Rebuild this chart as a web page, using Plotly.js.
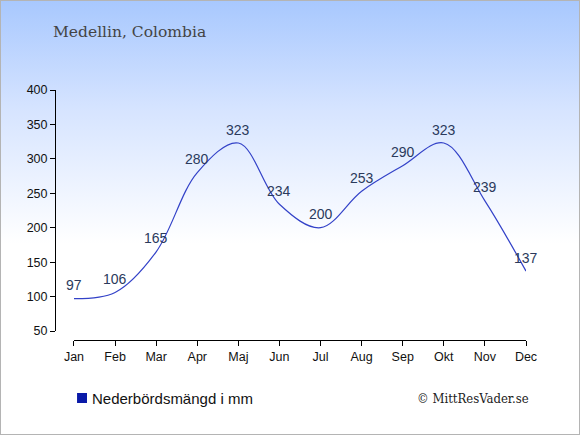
<!DOCTYPE html>
<html>
<head>
<meta charset="utf-8">
<script src="https://cdn.plot.ly/plotly-3.0.1.min.js"></script>
<style>
html,body{margin:0;padding:0;background:#fff;}
#wrap{position:relative;width:580px;height:435px;box-sizing:border-box;border:1px solid #b4b4b4;
background:linear-gradient(to bottom,#a8c8fe 0%,#d6e4ff 25%,#ffffff 56%,#ffffff 100%);overflow:hidden;}
#chart{position:absolute;left:-1px;top:-1px;width:580px;height:435px;}
</style>
</head>
<body>
<div id="wrap"><div id="chart"></div></div>
<script>
const months = ["Jan","Feb","Mar","Apr","Maj","Jun","Jul","Aug","Sep","Okt","Nov","Dec"];
const precipitation = [97,106,165,280,323,234,200,253,290,323,239,137];
const yTicks = [50,100,150,200,250,300,350,400];
const chartTitle = "Medellin, Colombia";
const legendLabel = "Nederbördsmängd i mm";
const credit = "© MittResVader.se";

const idx = months.map((m,i)=>i);

const trace = {
  x: idx, y: precipitation, type: 'scatter', mode: 'lines',
  line: {color: '#3342c8', width: 1.2, shape: 'spline', smoothing: 1},
  hoverinfo: 'skip', showlegend: false, cliponaxis: false
};

const labelAnns = precipitation.map((v,i)=>({
  x: i, y: v, xref: 'x', yref: 'y', text: String(v), showarrow: false,
  yshift: 13.5, font: {family: 'Liberation Sans, Arial, sans-serif', size: 14, color: '#2b3a5c'}
}));

const layout = {
  width: 580, height: 435,
  paper_bgcolor: 'rgba(0,0,0,0)', plot_bgcolor: 'rgba(0,0,0,0)',
  margin: {l: 55, r: 54, t: 90, b: 95},
  font: {family: 'Liberation Sans, Arial, sans-serif', size: 12, color: '#111'},
  xaxis: {
    range: [0, 11], domain: [0.0403, 1], anchor: 'free', position: 0,
    tickvals: idx, ticktext: months, showline: true, linecolor: '#000', linewidth: 1,
    ticks: 'outside', ticklen: 5, tickcolor: '#000', showgrid: false, zeroline: false,
    tickfont: {size: 12.5, color: '#111'}, fixedrange: true
  },
  yaxis: {
    range: [50, 400], domain: [0.036, 1], anchor: 'free', position: 0,
    tickvals: yTicks, showline: true, linecolor: '#000', linewidth: 1,
    ticks: 'outside', ticklen: 5, tickcolor: '#000', showgrid: false, zeroline: false,
    tickfont: {size: 12.5, color: '#111'}, fixedrange: true
  },
  showlegend: false,
  annotations: labelAnns.concat([
    {xref: 'paper', yref: 'paper', x: -0.0085, y: 1.232, xanchor: 'left', yanchor: 'middle',
     text: chartTitle, showarrow: false,
     font: {family: 'DejaVu Serif, serif', size: 15.5, color: '#444'}},
    {xref: 'paper', yref: 'paper', x: 0.0745, y: -0.232, xanchor: 'left', yanchor: 'middle',
     text: legendLabel, showarrow: false,
     font: {family: 'Liberation Sans, Arial, sans-serif', size: 15, color: '#111'}},
    {xref: 'paper', yref: 'paper', x: 1.011, y: -0.232, xanchor: 'right', yanchor: 'middle',
     text: credit, showarrow: false,
     font: {family: 'DejaVu Serif Condensed, DejaVu Serif, serif', size: 13, color: '#222'}}
  ]),
  shapes: [
    {type: 'rect', xref: 'paper', yref: 'paper', x0: 0.0468, x1: 0.0680, y0: -0.252, y1: -0.212,
     fillcolor: '#0a1aa8', line: {width: 0}}
  ]
};

Plotly.newPlot('chart', [trace], layout, {displayModeBar: false, staticPlot: true});
</script>
</body>
</html>
